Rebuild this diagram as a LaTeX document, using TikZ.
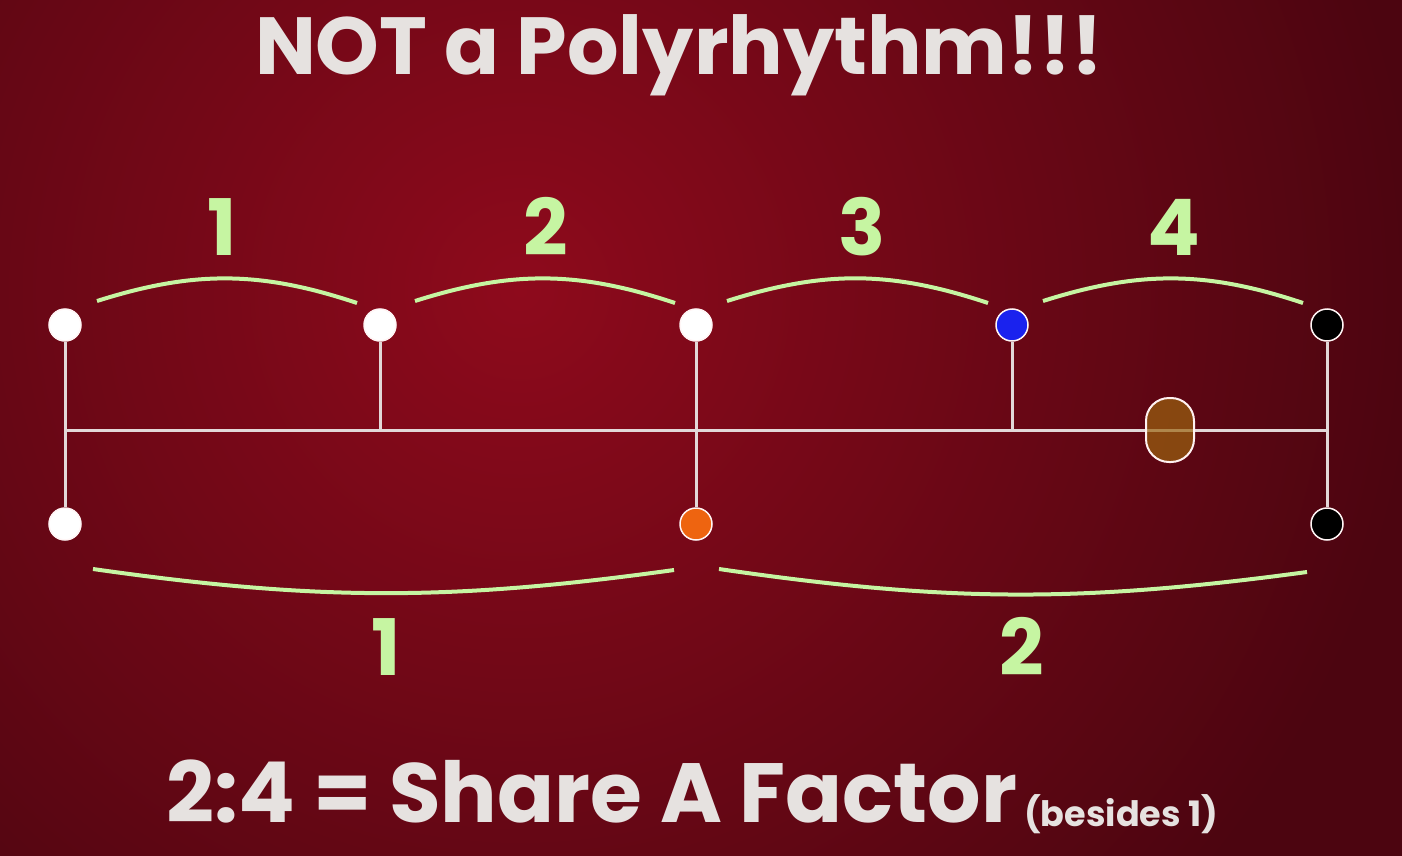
\documentclass[tikz,border=0pt]{standalone}
\usepackage{fontspec}
\setmainfont{Poppins}
\usepackage{tikz}
\usetikzlibrary{calc,backgrounds}
\definecolor{bgcenter}{HTML}{8E0A1C}
\definecolor{bgedge}{HTML}{4C0510}
\definecolor{chalk}{HTML}{E6E2E0}
\definecolor{countgreen}{HTML}{C6F5A2}
\definecolor{stemgray}{HTML}{E2D8D8}
\definecolor{pulseblue}{HTML}{1A22EE}
\definecolor{pulseorange}{HTML}{EE6410}
\definecolor{ovalbrown}{HTML}{9A6410}

\begin{document}
\begin{tikzpicture}[x=1pt,y=-1pt,
  beat/.style={circle,draw=white!85!pink,line width=1.5pt,minimum size=32pt,inner sep=0pt},
  stem/.style={draw=stemgray,line width=3pt},
  brace/.style={draw=countgreen,line width=4pt},
  count/.style={font=\fontsize{78}{78}\selectfont\bfseries,text=countgreen,anchor=base},
  headline/.style={font=\fontsize{81}{81}\selectfont\bfseries,text=chalk}
]
\useasboundingbox (0,0) rectangle (1402,856);

% titles
\node[headline,anchor=base] (title) at (679,75) {NOT a Polyrhythm!!!};
\node[headline,font=\fontsize{84}{84}\selectfont\bfseries,anchor=base west] (factor) at (163,822) {2:4 = Share A Factor};
\node[font=\fontsize{35}{35}\selectfont\bfseries,text=chalk,anchor=base west] (besides) at ([yshift=-4pt]factor.base east) {(besides 1)};

% pulses of four (top) and two (bottom)
\node[beat,fill=white] (t1) at (65,325) {};
\node[beat,fill=white] (t2) at (380,325) {};
\node[beat,fill=white] (t3) at (696,325) {};
\node[beat,fill=pulseblue] (t4) at (1012,325) {};
\node[beat,fill=black] (t5) at (1327,325) {};
\node[beat,fill=white] (b1) at (65,524) {};
\node[beat,fill=pulseorange] (b2) at (696,524) {};
\node[beat,fill=black] (b3) at (1327,524) {};
\coordinate (lineL) at (65,430);
\coordinate (lineR) at (1327,430);

% playhead
\node[rectangle,rounded corners=23pt,draw=white!80!pink,line width=2pt,fill=ovalbrown,fill opacity=0.7,minimum width=48pt,minimum height=64pt,inner sep=0pt] (head) at (1170,430) {};

\begin{scope}[on background layer]
  % background
  \begin{scope}
    \clip (0,0) rectangle (1402,856);
    \fill[bgedge] (0,0) rectangle (1402,856);
    \shade[inner color=bgcenter,outer color=bgedge] (520,290) circle (900);
  \end{scope}
  \draw[stem] (lineL) -- (lineR);
  \draw[stem] (t1) -- (b1);
  \draw[stem] (t3) -- (b2);
  \draw[stem] (t5) -- (b3);
  \draw[stem] (t2) -- (t2 |- lineL);
  \draw[stem] (t4) -- (t4 |- lineL);
\end{scope}

% counting braces
\draw[brace] (97,301) to[bend left=18] (357,303);
\draw[brace] (415,301) to[bend left=18] (675,303);
\draw[brace] (727,301) to[bend left=18] (988,303);
\draw[brace] (1043,301) to[bend left=18] (1303,303);
\draw[brace] (93,569) to[bend right=8] (674,570);
\draw[brace] (719,569) to[bend right=8] (1307,572);

\node[count] (c1) at (222,255) {1};
\node[count] (c2) at (546,255) {2};
\node[count] (c3) at (862,255) {3};
\node[count] (c4) at (1174,255) {4};
\node[count] (d1) at (386,675) {1};
\node[count] (d2) at (1022,675) {2};
\end{tikzpicture}
\end{document}
